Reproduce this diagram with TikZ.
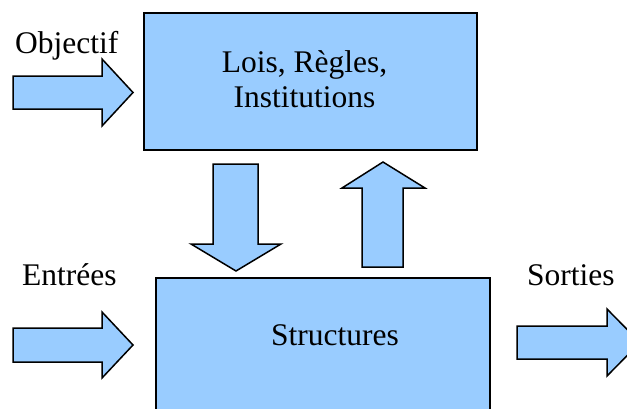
\documentclass[tikz,border=0pt]{standalone}
\usepackage{fontspec}
\setmainfont{LiberationSerif}[Extension=.ttf,UprightFont=*-Regular,BoldFont=*-Bold]

\begin{document}
\begin{tikzpicture}[x=1pt,y=-1pt]
  \definecolor{ciel}{HTML}{99CCFF}
  \path[use as bounding box] (0,0) rectangle (627,408);
  \clip (0,0) rectangle (627,408);

  \tikzset{bloc/.style={draw=black,fill=ciel,line width=1.5pt,inner sep=0pt},
           fleche/.style={draw=black,fill=ciel,line width=1.5pt,line join=miter},
           mot/.style={font=\fontsize{31.5}{35}\selectfont,inner sep=0pt,align=center}}

  % The two boxes; the lower one runs off the bottom edge.
  \node[bloc,minimum width=333pt,minimum height=137pt] (lois) at (310.5,81.5) {};
  \node[bloc,minimum width=334pt,minimum height=160pt,anchor=north] (structures) at (323,277) {};
  \node[mot] (loistexte) at (304.5,79) {Lois, Règles,\\Institutions};
  \node[mot,anchor=base] (structtexte) at (335,345) {Structures};

  \node[mot,anchor=base west] (objectif) at (15,53) {Objectif};
  \node[mot,anchor=base west] (entrees) at (22,285) {Entrées};
  \node[mot,anchor=base west] (sorties) at (527,285) {Sorties};

  % Block arrows
  \draw[fleche] (13,76) -- (102,76) -- (102,59) -- (133,92.5) -- (102,126) -- (102,109) -- (13,109) -- cycle;
  \draw[fleche] (13,328) -- (102,328) -- (102,312) -- (133,345) -- (102,378) -- (102,362) -- (13,362) -- cycle;
  \draw[fleche] (517,326) -- (607,326) -- (607,309) -- (640,342.5) -- (607,376) -- (607,359) -- (517,359) -- cycle;
  \draw[fleche] (213,164) -- (258,164) -- (258,244) -- (281,244) -- (236,271) -- (191,244) -- (213,244) -- cycle;
  \draw[fleche] (362,267) -- (362,188) -- (342,188) -- (383,162) -- (425,188) -- (403,188) -- (403,267) -- cycle;
\end{tikzpicture}
\end{document}
